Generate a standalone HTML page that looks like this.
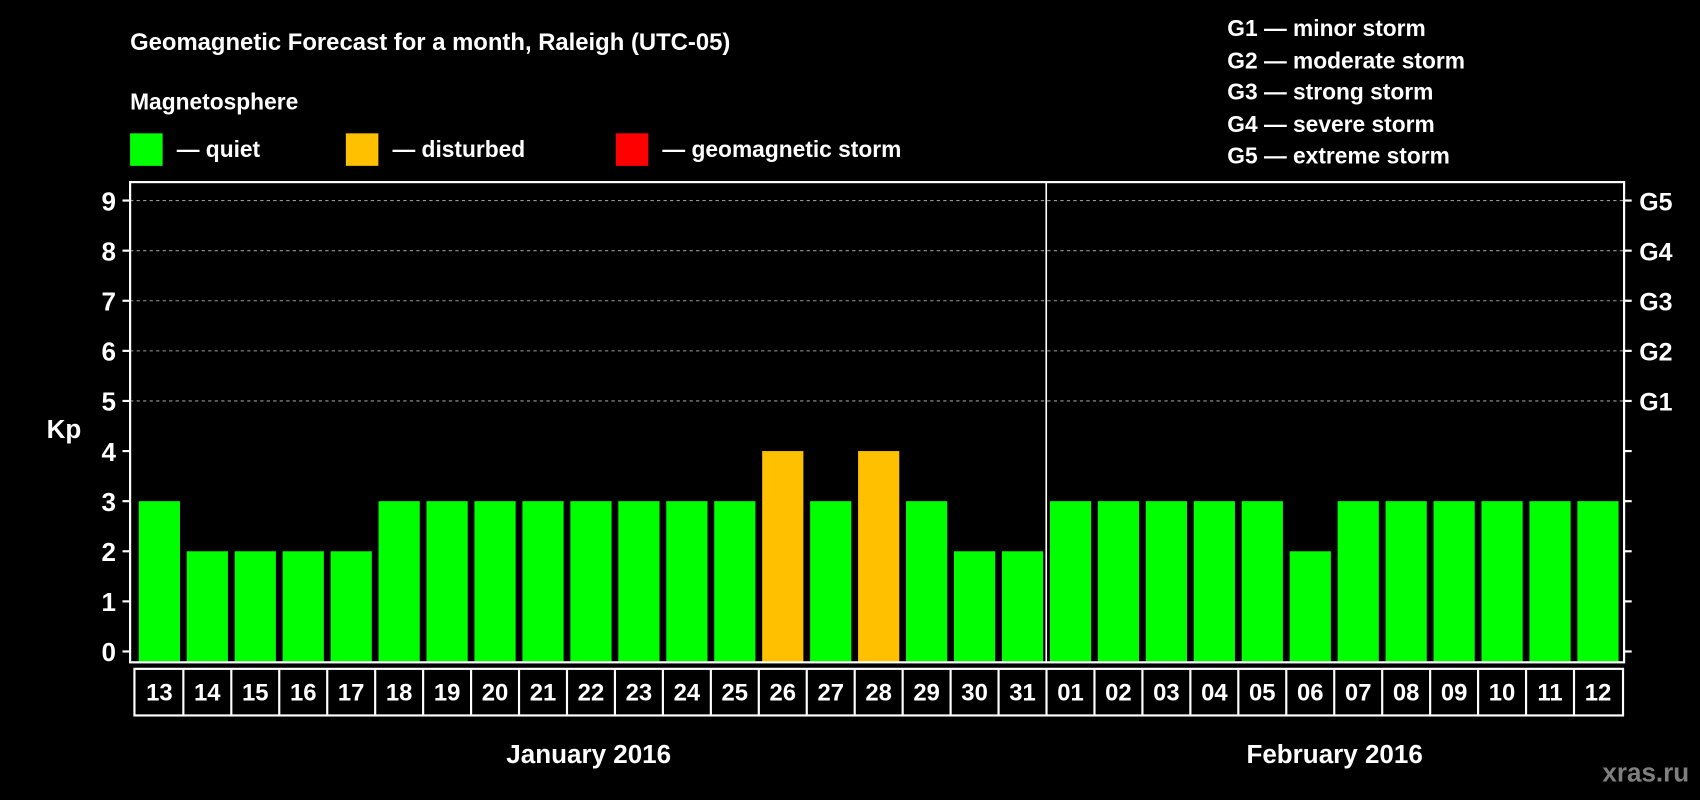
<!DOCTYPE html>
<html><head><meta charset="utf-8">
<style>
html,body{margin:0;padding:0;background:#000;width:1700px;height:800px;overflow:hidden}
svg{display:block}
text{font-family:"Liberation Sans",Arial,sans-serif;font-weight:bold;fill:#fff}
</style></head>
<body>
<svg id="chart" width="1700" height="800" viewBox="0 0 1568 738" preserveAspectRatio="none" xmlns="http://www.w3.org/2000/svg">
<rect x="0" y="0" width="1568" height="738" fill="#000"/>
<text x="120" y="46" font-size="22">Geomagnetic Forecast for a month, Raleigh (UTC-05)</text>
<text x="120" y="101" font-size="21">Magnetosphere</text>
<g>
<rect x="120" y="123" width="30" height="30" fill="#00ff00"/>
<text x="163" y="145" font-size="21">— quiet</text>
<rect x="319" y="123" width="30" height="30" fill="#ffc000"/>
<text x="362" y="145" font-size="21">— disturbed</text>
<rect x="568" y="123" width="30" height="30" fill="#ff0000"/>
<text x="611" y="145" font-size="21">— geomagnetic storm</text>
</g>
<g font-size="21">
<text x="1132" y="33">G1 — minor storm</text>
<text x="1132" y="63">G2 — moderate storm</text>
<text x="1132" y="92">G3 — strong storm</text>
<text x="1132" y="122">G4 — severe storm</text>
<text x="1132" y="151">G5 — extreme storm</text>
</g>
<text x="59" y="404" font-size="24" text-anchor="middle">Kp</text>
<text x="543" y="704" font-size="24" text-anchor="middle">January 2016</text>
<text x="1231" y="704" font-size="24" text-anchor="middle">February 2016</text>
<text x="1558" y="721" font-size="24" text-anchor="end" style="fill:#7f7f7f">xras.ru</text>
<g id="grid"></g>
<g id="bars"></g>
<g id="labels"></g>
<rect x="120" y="168" width="1378" height="443" fill="none" stroke="#fff" stroke-width="2"/>
<line x1="965" y1="168" x2="965" y2="611" stroke="#fff" stroke-width="1.5"/>
</svg>
<script>
const days = ["13","14","15","16","17","18","19","20","21","22","23","24","25","26","27","28","29","30","31","01","02","03","04","05","06","07","08","09","10","11","12"];
const kpValues = [3,2,2,2,2,3,3,3,3,3,3,3,3,4,3,4,3,2,2,3,3,3,3,3,2,3,3,3,3,3,3];
const yTicks = [0,1,2,3,4,5,6,7,8,9];
const gLabels = ["G1","G2","G3","G4","G5"];
const gLevels = [5,6,7,8,9];

const NS = "http://www.w3.org/2000/svg";
const plotL = 120, plotR = 1498, y0 = 601, y9 = 185;
const yScale = v => y0 - (y0 - y9) * v / 9;
const pitch = (1493 - 128) / (days.length - 1 + 38/44.23*0 ) ;
const step = 44.23;
const xScale = i => 128 + i * step;
const barW = 38;
const color = v => v >= 5 ? "#ff0000" : (v >= 4 ? "#ffc000" : "#00ff00");
function mk(tag, attrs, parent){const e=document.createElementNS(NS,tag);for(const k in attrs)e.setAttribute(k,attrs[k]);parent.appendChild(e);return e;}
const grid = document.getElementById("grid"), bars = document.getElementById("bars"), labels = document.getElementById("labels");

yTicks.forEach(v => {
  const y = yScale(v);
  if (v >= 5) {
    const g = mk("line",{x1:plotL,y1:y,x2:plotR,y2:y,stroke:"#999","stroke-width":1,"stroke-dasharray":"3,3"},grid);
    
    
  }
  const tl = mk("line",{x1:113,y1:y,x2:plotL,y2:y,stroke:"#fff","stroke-width":2},grid);
  
  
  const tr = mk("line",{x1:plotR,y1:y,x2:1505,y2:y,stroke:"#fff","stroke-width":2},grid);
  
  
  const t = mk("text",{x:107,y:y+9,"font-size":24,"text-anchor":"end"},grid);
  t.textContent = v;
  
  
});
gLabels.forEach((g,i) => {
  const t = mk("text",{x:1512,y:yScale(gLevels[i])+9,"font-size":23},grid);
  t.textContent = g;
  
  
});
kpValues.forEach((v,i) => {
  const x = xScale(i), y = yScale(v);
  const b = mk("rect",{x:x,y:y,width:barW,height:611-y,fill:color(v)},bars);
  
  
});
mk("rect",{x:124,y:617,width:1373,height:43,fill:"none",stroke:"#fff","stroke-width":2},labels);
days.forEach((d,i) => {
  const cx = xScale(i) + barW/2;
  if (i > 0) {
    const l = mk("line",{x1:cx-step/2,y1:617,x2:cx-step/2,y2:660,stroke:"#fff","stroke-width":2},labels);
    
    
  }
  const t = mk("text",{x:cx,y:646,"font-size":22,"text-anchor":"middle"},labels);
  t.textContent = d;
  
  
});
</script>
</body></html>
